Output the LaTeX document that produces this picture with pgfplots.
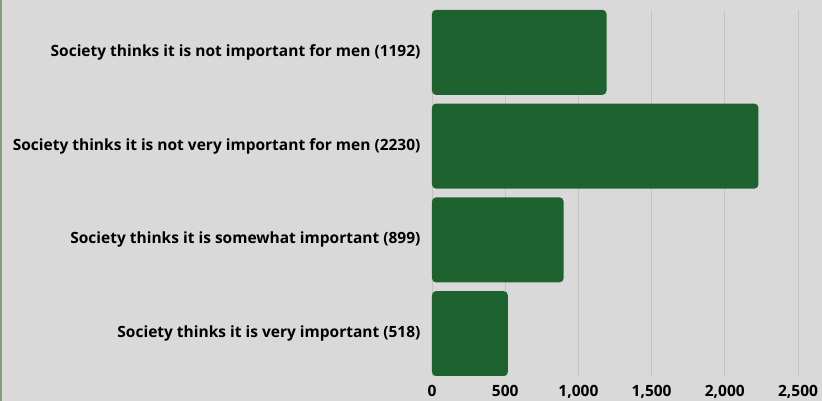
\documentclass[border=0pt]{standalone}
\usepackage{pgfplots}
\pgfplotsset{compat=1.18}
\usepackage{fontspec}
\setmainfont{Open Sans}
\definecolor{bg}{RGB}{217,217,217}
\definecolor{barg}{RGB}{30,99,47}
\definecolor{gridc}{RGB}{196,196,196}
\definecolor{edgeg}{RGB}{135,155,130}
\begin{document}
\begin{tikzpicture}[x=1pt,y=1pt]
\fill[bg] (0,0) rectangle (822,401);
\useasboundingbox (0,0) rectangle (822,401);
\fill[edgeg] (0,0) rectangle (1.5,401);
\begin{axis}[
  at={(432pt,25pt)}, anchor=south west,
  scale only axis, width=366pt, height=366pt,
  xbar, bar width=85pt,
  xmin=0, xmax=2500,
  ymin=-0.452, ymax=3.452,
  ytick={0,1,2,3},
  yticklabels={Society thinks it is very important (518),
               Society thinks it is somewhat important (899),
               Society thinks it is not very important for men (2230),
               Society thinks it is not important for men (1192)},
  xtick={0,500,1000,1500,2000,2500},
  /pgf/number format/assume math mode=true,
  /pgf/number format/1000 sep={,},
  scaled x ticks=false,
  major tick length=0pt,
  axis line style={draw=none},
  xmajorgrids, grid style={gridc, line width=0.8pt},
  ticklabel style={font=\fontsize{15.5}{18}\selectfont\bfseries},
  yticklabel style={xshift=-8pt},
  xticklabel style={yshift=-6pt},
  axis on top=false,
]
\addplot[fill=barg, draw=none, rounded corners=4pt] coordinates {(518,0) (899,1) (2230,2) (1192,3)};
\end{axis}
\end{tikzpicture}
\end{document}
